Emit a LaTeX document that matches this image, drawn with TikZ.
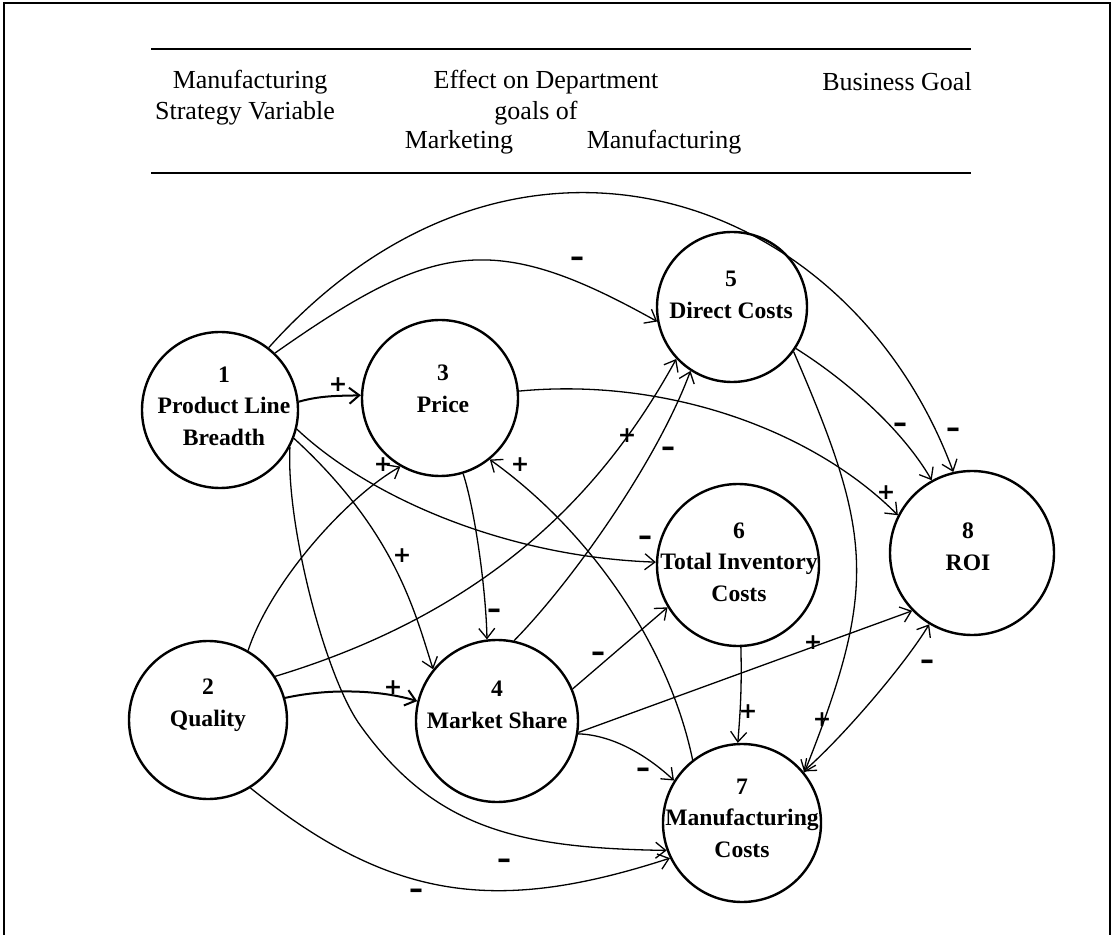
\documentclass[tikz,border=0pt]{standalone}
\usepackage{fontspec}
\setmainfont{Liberation Serif}
\newfontfamily\signfont{DejaVu Sans}
\usetikzlibrary{arrows.meta}
\begin{document}
\begin{tikzpicture}[x=0.5pt,y=-0.5pt,
  circ/.style={draw,circle,line width=1.2pt,inner sep=0pt},
  lab/.style={align=center,inner sep=0pt,font=\fontsize{11.8}{15.8}\selectfont\bfseries},
  hdr/.style={inner sep=0pt,font=\fontsize{13}{15}\selectfont},
  sg/.style={inner sep=0pt,font=\signfont\fontsize{11}{11}\selectfont\bfseries},
  mn/.style={inner sep=0pt,font=\signfont\fontsize{14}{14}\selectfont\bfseries},
  con/.style={line width=0.65pt,-{Straight Barb[length=5pt,width=8pt]}},
  conb/.style={line width=0.65pt,{Straight Barb[length=5pt,width=8pt]}-{Straight Barb[length=5pt,width=8pt]}},
  thk/.style={line width=1pt}]
\useasboundingbox (0,0) rectangle (1114,935);
% frame
\coordinate (fa) at (4,935);
\coordinate (fb) at (4,3);
\coordinate (fc) at (1110,3);
\coordinate (fd) at (1110,935);
\draw[line width=0.8pt] (fa) -- (fb) -- (fc) -- (fd);
% header rules
\coordinate (ra) at (151,49);
\coordinate (rb) at (971,49);
\coordinate (rc) at (151,173);
\coordinate (rd) at (971,173);
\draw[line width=1pt] (ra) -- (rb);
\draw[line width=1pt] (rc) -- (rd);
% header texts
\node[hdr] (h1) at (250,82) {Manufacturing};
\node[hdr] (h2) at (245,113) {Strategy Variable};
\node[hdr] (h3) at (546,82) {Effect on Department};
\node[hdr] (h4) at (536,113) {goals of};
\node[hdr] (h5) at (459,142) {Marketing};
\node[hdr] (h6) at (664,142) {Manufacturing};
\node[hdr] (h7) at (897,82) {Business Goal};
% circles
\node[circ,minimum size=78pt] (c1) at (220,410) {};
\node[circ,minimum size=79pt] (c2) at (208,720) {};
\node[circ,minimum size=78pt] (c3) at (440,398) {};
\node[circ,minimum size=81pt] (c4) at (497,721) {};
\node[circ,minimum size=75pt] (c5) at (732,307) {};
\node[circ,minimum size=81pt] (c6) at (738,565) {};
\node[circ,minimum size=79pt] (c7) at (742,823) {};
\node[circ,minimum size=82pt] (c8) at (972,553) {};
% circle texts
\node[lab] (t1) at (224,406) {1\\Product Line\\Breadth};
\node[lab] (t2) at (208,705) {2\\Quality};
\node[lab] (t3) at (443,389) {3\\Price};
\node[lab] (t4) at (497,705) {4\\Market Share};
\node[lab] (t5) at (731,295) {5\\Direct Costs};
\node[lab] (t6) at (739,562) {6\\Total Inventory\\Costs};
\node[lab] (t7) at (742,818) {7\\Manufacturing\\Costs};
\node[lab] (t8) at (968,547) {8\\ROI};
% connectors
\draw[con,thk] (c1.6) .. controls (322,395) and (342,396) .. (c3.178);
\draw[con] (c1.52) .. controls (511,77) and (848,188) .. (c8.103);
\draw[con] (c1.46) .. controls (433,242) and (492,229) .. (c5.191);
\draw[con] (c1.-14) .. controls (370,498) and (507,557) .. (c6.178);
\draw[con] (c1.-21) .. controls (396,532) and (415,613) .. (c4.141);
\draw[con] (c1.-28) .. controls (286,525) and (325,676) .. (360,725) .. controls (435,830) and (520,848) .. (c7.200);
\draw[con] (c2.60) .. controls (271,581) and (348,496) .. (c3.240);
\draw[con] (c2.33) .. controls (488,612) and (602,494) .. (c5.223);
\draw[con,thk] (c2.16) .. controls (330,688) and (380,690) .. (c4.166);
\draw[con] (c2.-58) .. controls (392,902) and (498,914) .. (c7.206);
\draw[con] (c3.5) .. controls (668,377) and (814,431) .. (c8.153);
\draw[con] (c3.-73) .. controls (475,510) and (486,590) .. (c4.97);
\draw[con] (c4.78) .. controls (569,585) and (656,464) .. (c5.237);
\draw[con] (c4.23) -- (c6.211);
\draw[con] (c4.-8) -- (c8.224);
\draw[con] (c4.-9) .. controls (615,735) and (650,758) .. (c7.148);
\draw[con] (c6.-88) .. controls (742,690) and (740,715) .. (c7.93);
\draw[con] (c5.-36) .. controls (873,535) and (878,587) .. (c7.39);
\draw[con] (c5.-33) .. controls (846,380) and (902,429) .. (c8.119);
\draw[conb] (c8.239) .. controls (904,666) and (840,740) .. (c7.40);
\draw[con] (c7.128) .. controls (668,642) and (587,529) .. (c3.-51);
% signs
\node[sg] (s1) at (338,385) {+};
\node[mn] (s2) at (953,433) {–};
\node[mn] (s3) at (577,262) {–};
\node[mn] (s4) at (645,541) {–};
\node[sg] (s5) at (402,556) {+};
\node[mn] (s6) at (504,864) {–};
\node[sg] (s7) at (383,465) {+};
\node[sg] (s8) at (627,436) {+};
\node[sg] (s9) at (393,688) {+};
\node[mn] (s10) at (416,894) {–};
\node[sg] (s11) at (886,493) {+};
\node[mn] (s12) at (494,614) {–};
\node[mn] (s13) at (668,452) {–};
\node[mn] (s14) at (598,657) {–};
\node[sg] (s15) at (813,643) {+};
\node[mn] (s16) at (643,773) {–};
\node[sg] (s17) at (748,712) {+};
\node[sg] (s18) at (822,720) {+};
\node[mn] (s19) at (900,428) {–};
\node[mn] (s20) at (927,665) {–};
\node[sg] (s21) at (520,465) {+};
\end{tikzpicture}
\end{document}
